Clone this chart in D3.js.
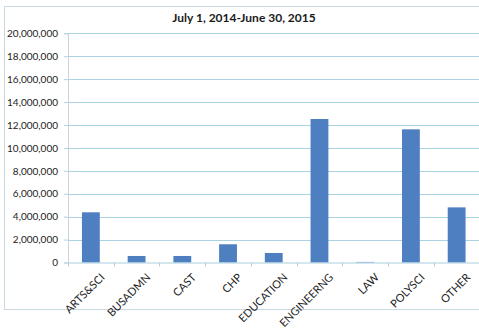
<!DOCTYPE html>
<html><head><meta charset="utf-8">
<script src="https://cdn.jsdelivr.net/npm/d3@7"></script>
<style>body{margin:0;background:#fff;}svg{display:block;}</style>
</head><body>
<svg id="c" width="479" height="329"></svg>
<script>
const title = "July 1, 2014-June 30, 2015";
const categories = ["ARTS&SCI","BUSADMN","CAST","CHP","EDUCATION","ENGINEERNG","LAW","POLYSCI","OTHER"];
const values = [4380000, 570000, 570000, 1590000, 830000, 12520000, 50000, 11620000, 4810000];
const yTicks = [0,2000000,4000000,6000000,8000000,10000000,12000000,14000000,16000000,18000000,20000000];

const svg = d3.select("#c");
const L = 68, R = 479, T = 33.3, B = 262.5;
const x = d3.scaleBand().domain(categories).range([L, R + 0.5]).paddingInner(0.61).paddingOuter(0.305);
const y = d3.scaleLinear().domain([0, 20000000]).range([B, T]);

// outer border
svg.append("rect").attr("x",4.5).attr("y",6.5).attr("width",480).attr("height",303)
  .attr("fill","none").attr("stroke","#c9d9e2").attr("stroke-width",1);

svg.append("text").attr("x",244).attr("y",22).attr("text-anchor","middle")
  .attr("font-family","Lato, 'Open Sans', sans-serif").attr("font-weight","bold").attr("font-size",12)
  .attr("fill","#1a1a1a").text(title);

// gridlines
svg.append("g").selectAll("line").data(yTicks.filter(d=>d>0)).join("line")
  .attr("x1",L).attr("x2",R).attr("y1",d=>Math.round(y(d))+0.5).attr("y2",d=>Math.round(y(d))+0.5)
  .attr("stroke","#a9d3e3").attr("stroke-width",1);

// y axis
const ya = svg.append("g").attr("transform",`translate(${L},0)`)
  .call(d3.axisLeft(y).tickValues(yTicks).tickFormat(d3.format(",")).tickSize(4).tickPadding(6));
ya.select(".domain").attr("stroke","#c8d6dc");
ya.selectAll(".tick line").attr("stroke","#b9cfd8");
ya.selectAll("text").attr("font-family","Lato, 'Open Sans', sans-serif").attr("font-size",10).attr("fill","#222");

// bars
svg.append("g").selectAll("rect").data(categories).join("rect")
  .attr("x",d=>x(d)).attr("width",x.bandwidth())
  .attr("y",(d,i)=>y(values[i])).attr("height",(d,i)=>B-y(values[i]))
  .attr("fill","#4d7fc1");

// x axis
const step = x.step();
const xa = svg.append("g").attr("transform",`translate(0,${B})`)
  .call(d3.axisBottom(x).tickSize(0).tickPadding(8));
xa.select(".domain").attr("stroke","#a9cfdf");
xa.selectAll("text").attr("font-family","Lato, 'Open Sans', sans-serif").attr("font-size",11).attr("fill","#222")
  .attr("text-anchor","end").attr("transform","translate(5,6) rotate(-45)").attr("dy","0.5em");
// tick marks at band boundaries
svg.append("g").selectAll("line").data(d3.range(categories.length+1)).join("line")
  .attr("x1",i=>Math.round(x(categories[0]) + x.bandwidth()/2 - step/2 + i*step)+0.5)
  .attr("x2",i=>Math.round(x(categories[0]) + x.bandwidth()/2 - step/2 + i*step)+0.5)
  .attr("y1",B).attr("y2",B+4).attr("stroke","#b9cfd8");
</script>
</body></html>
